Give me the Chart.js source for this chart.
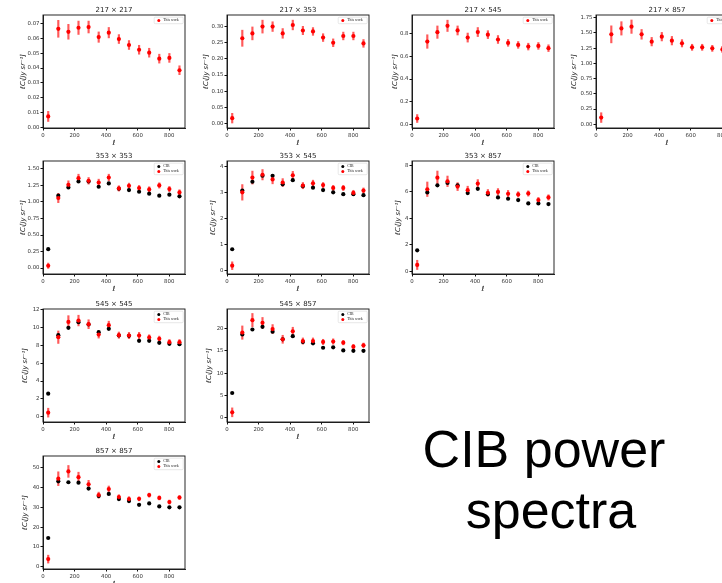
<!DOCTYPE html>
<html><head><meta charset="utf-8">
<script src="https://cdn.jsdelivr.net/npm/chart.js@4/dist/chart.umd.min.js"></script>
<style>
html,body{margin:0;padding:0;background:#fff;}
body{width:722px;height:583px;overflow:hidden;position:relative;}
.big{position:absolute;width:400px;text-align:center;font-family:"Liberation Sans",Arial,sans-serif;font-size:52px;line-height:52px;color:#000;white-space:nowrap;}
</style></head>
<body>
<div class="big" style="left:344px;top:423px;">CIB power</div>
<div class="big" style="left:351px;top:484px;">spectra</div>
<script>
// ---------- data ----------
const ell = [33, 97, 161, 225, 289, 353, 417, 481, 545, 609, 673, 737, 801, 865];
const xTickLabels = ['0', '200', '400', '600', '800'];
const seriesLabels = ['CIB', 'This work'];
const panelTitles = ['217 × 217', '217 × 353', '217 × 545', '217 × 857', '353 × 353',
                     '353 × 545', '353 × 857', '545 × 545', '545 × 857', '857 × 857'];

const work_217x217 = [0.0074, 0.0664, 0.0644, 0.0671, 0.0676, 0.0608, 0.0638, 0.0595, 0.0555, 0.0523, 0.0503, 0.0463, 0.0468, 0.0385];
const err_217x217  = [0.0034, 0.0057, 0.0050, 0.0045, 0.0040, 0.0035, 0.0035, 0.0030, 0.0030, 0.0030, 0.0030, 0.0030, 0.0030, 0.0030];

const work_217x353 = [0.0165, 0.264, 0.279, 0.300, 0.300, 0.279, 0.305, 0.288, 0.285, 0.266, 0.250, 0.271, 0.271, 0.248];
const err_217x353  = [0.015, 0.025, 0.020, 0.020, 0.015, 0.015, 0.015, 0.013, 0.012, 0.012, 0.012, 0.012, 0.012, 0.012];

const work_217x545 = [0.050, 0.732, 0.815, 0.871, 0.830, 0.767, 0.816, 0.793, 0.750, 0.720, 0.702, 0.687, 0.693, 0.673];
const err_217x545  = [0.035, 0.060, 0.055, 0.050, 0.040, 0.040, 0.040, 0.035, 0.035, 0.030, 0.030, 0.030, 0.030, 0.030];

const work_217x857 = [0.109, 1.477, 1.575, 1.603, 1.477, 1.357, 1.439, 1.373, 1.330, 1.264, 1.264, 1.247, 1.230, 1.200];
const err_217x857  = [0.08, 0.14, 0.11, 0.11, 0.08, 0.07, 0.07, 0.07, 0.06, 0.05, 0.05, 0.05, 0.05, 0.05];

const cib_353x353  = [0.285, 1.095, 1.220, 1.310, 1.310, 1.230, 1.280, 1.200, 1.180, 1.155, 1.125, 1.095, 1.110, 1.085];
const work_353x353 = [0.035, 1.060, 1.260, 1.360, 1.320, 1.295, 1.370, 1.205, 1.245, 1.210, 1.190, 1.250, 1.195, 1.145];
const err_353x353  = [0.04, 0.07, 0.06, 0.06, 0.05, 0.05, 0.05, 0.04, 0.04, 0.04, 0.04, 0.04, 0.04, 0.04];

const cib_353x545  = [0.825, 3.09, 3.43, 3.66, 3.66, 3.33, 3.49, 3.26, 3.20, 3.11, 3.02, 2.95, 2.95, 2.91];
const work_353x545 = [0.19, 3.02, 3.59, 3.70, 3.52, 3.40, 3.68, 3.28, 3.37, 3.30, 3.19, 3.19, 3.00, 3.09];
const err_353x545  = [0.15, 0.30, 0.25, 0.20, 0.17, 0.15, 0.15, 0.12, 0.12, 0.10, 0.10, 0.10, 0.10, 0.10];

const cib_353x857  = [1.57, 5.96, 6.50, 6.68, 6.50, 5.91, 6.23, 5.83, 5.58, 5.48, 5.38, 5.13, 5.13, 5.08];
const work_353x857 = [0.47, 6.20, 7.08, 6.80, 6.40, 6.13, 6.63, 5.93, 6.00, 5.86, 5.81, 5.88, 5.38, 5.58];
const err_353x857  = [0.35, 0.55, 0.50, 0.40, 0.30, 0.30, 0.30, 0.25, 0.25, 0.25, 0.20, 0.20, 0.20, 0.20];

const cib_545x545  = [2.58, 9.16, 9.98, 10.62, 10.36, 9.50, 9.87, 9.12, 9.08, 8.52, 8.52, 8.30, 8.19, 8.15];
const work_545x545 = [0.45, 8.93, 10.65, 10.80, 10.39, 9.23, 10.28, 9.16, 9.12, 9.12, 8.90, 8.75, 8.37, 8.37];
const err_545x545  = [0.50, 0.70, 0.70, 0.60, 0.50, 0.40, 0.45, 0.35, 0.35, 0.35, 0.30, 0.30, 0.30, 0.30];

const cib_545x857  = [5.54, 18.7, 19.8, 20.4, 19.3, 17.6, 18.3, 17.0, 16.7, 15.7, 15.8, 15.1, 15.0, 15.0];
const work_545x857 = [1.2, 19.1, 21.9, 21.3, 19.9, 17.6, 19.4, 17.2, 17.2, 17.0, 17.1, 16.85, 15.95, 16.25];
const err_545x857  = [1.0, 1.5, 1.5, 1.2, 1.0, 0.9, 0.9, 0.7, 0.7, 0.6, 0.6, 0.5, 0.5, 0.5];

const cib_857x857  = [14.5, 43.2, 42.7, 42.5, 39.5, 35.7, 36.8, 34.2, 33.2, 31.3, 32.0, 30.5, 30.0, 30.0];
const work_857x857 = [3.8, 44.5, 48.2, 45.3, 41.7, 36.2, 39.3, 35.2, 34.2, 34.3, 36.2, 34.8, 32.7, 35.0];
const err_857x857  = [2.0, 3.5, 3.0, 2.5, 2.0, 1.5, 1.5, 1.2, 1.2, 1.0, 1.0, 1.0, 1.0, 1.0];

const yLabels_217x217 = ['0.00', '0.01', '0.02', '0.03', '0.04', '0.05', '0.06', '0.07'];
const yLabels_217x353 = ['0.00', '0.05', '0.10', '0.15', '0.20', '0.25', '0.30'];
const yLabels_217x545 = ['0.0', '0.2', '0.4', '0.6', '0.8'];
const yLabels_217x857 = ['0.00', '0.25', '0.50', '0.75', '1.00', '1.25', '1.50', '1.75'];
const yLabels_353x353 = ['0.00', '0.25', '0.50', '0.75', '1.00', '1.25', '1.50'];
const yLabels_353x545 = ['0', '1', '2', '3', '4'];
const yLabels_353x857 = ['0', '2', '4', '6', '8'];
const yLabels_545x545 = ['0', '2', '4', '6', '8', '10', '12'];
const yLabels_545x857 = ['0', '5', '10', '15', '20'];
const yLabels_857x857 = ['0', '10', '20', '30', '40', '50'];

// panel definitions: series + axis range
const panels = [
  {work: work_217x217, err: err_217x217, cib: null,        yLabels: yLabels_217x217, yMin: -0.0004, yMax: 0.0757},
  {work: work_217x353, err: err_217x353, cib: null,        yLabels: yLabels_217x353, yMin: -0.014,  yMax: 0.336},
  {work: work_217x545, err: err_217x545, cib: null,        yLabels: yLabels_217x545, yMin: -0.034,  yMax: 0.967},
  {work: work_217x857, err: err_217x857, cib: null,        yLabels: yLabels_217x857, yMin: -0.062,  yMax: 1.795},
  {work: work_353x353, err: err_353x353, cib: cib_353x353, yLabels: yLabels_353x353, yMin: -0.09,   yMax: 1.62},
  {work: work_353x545, err: err_353x545, cib: cib_353x545, yLabels: yLabels_353x545, yMin: -0.13,   yMax: 4.23},
  {work: work_353x857, err: err_353x857, cib: cib_353x857, yLabels: yLabels_353x857, yMin: -0.22,   yMax: 8.34},
  {work: work_545x545, err: err_545x545, cib: cib_545x545, yLabels: yLabels_545x545, yMin: -0.6,    yMax: 12.1},
  {work: work_545x857, err: err_545x857, cib: cib_545x857, yLabels: yLabels_545x857, yMin: -0.97,   yMax: 24.4},
  {work: work_857x857, err: err_857x857, cib: cib_857x857, yLabels: yLabels_857x857, yMin: -1.2,    yMax: 56}
];

// ---------- layout (plot-area left, top, y-title gap) ----------
const layout = [
  [43, 15, 20], [227, 15, 21], [412, 15, 17], [596, 15, 22],
  [43, 161, 20], [227, 161, 14], [412, 161, 14],
  [43, 309, 18], [227, 309, 18],
  [43, 456, 18]
];
const PW = 142, PH = 113, LEFTBOX = 45, TOPBOX = 15, BOTBOX = 27, RIGHTPAD = 8;

const framePlugin = {
  id: 'frame',
  afterDatasetsDraw(chart) {
    const {ctx, chartArea: a} = chart;
    ctx.save();
    ctx.strokeStyle = '#111';
    ctx.lineWidth = 0.9;
    ctx.strokeRect(a.left, a.top, a.right - a.left, a.bottom - a.top);
    ctx.restore();
  }
};

const legendPlugin = {
  id: 'boxLegend',
  afterDraw(chart, args, opts) {
    const items = opts.items;
    if (!items || !items.length) return;
    const {ctx, chartArea: a} = chart;
    const w = 29, rowH = 5, h = items.length * rowH + 1.5;
    const x = a.right - 1.8 - w, y = a.top + 2.2;
    ctx.save();
    ctx.fillStyle = 'rgba(255,255,255,0.85)';
    ctx.strokeStyle = '#d0d0d0';
    ctx.lineWidth = 0.5;
    ctx.beginPath();
    if (ctx.roundRect) ctx.roundRect(x, y, w, h, 1); else ctx.rect(x, y, w, h);
    ctx.fill(); ctx.stroke();
    items.forEach((it, i) => {
      const cy = y + 0.75 + rowH * (i + 0.5);
      ctx.fillStyle = it.color;
      ctx.beginPath(); ctx.arc(x + 4.6, cy, 1.5, 0, Math.PI * 2); ctx.fill();
      ctx.fillStyle = '#222';
      ctx.font = '3.8px "Liberation Serif", "DejaVu Serif", serif';
      ctx.textBaseline = 'middle';
      ctx.fillText(it.label, x + 9, cy);
    });
    ctx.restore();
  }
};

const tickFont = {family: '"DejaVu Sans", sans-serif', size: 5.4};

panels.forEach((p, k) => {
  const [L, T, gap] = layout[k];
  const cw = LEFTBOX + PW + RIGHTPAD, ch = TOPBOX + PH + BOTBOX;
  const canvas = document.createElement('canvas');
  canvas.width = cw; canvas.height = ch;
  canvas.style.cssText = `position:absolute;left:${L - LEFTBOX}px;top:${T - TOPBOX}px;width:${cw}px;height:${ch}px;`;
  document.body.appendChild(canvas);

  const datasets = [];
  datasets.push({
    type: 'bar', label: 'err',
    data: ell.map((x, i) => ({x: x, y: [p.work[i] - p.err[i], p.work[i] + p.err[i]]})),
    backgroundColor: 'rgba(255,20,20,0.7)', borderWidth: 0,
    barThickness: 1.5, grouped: false, order: 3
  });
  const legendItems = [];
  if (p.cib) {
    datasets.push({
      type: 'scatter', label: seriesLabels[0],
      data: ell.map((x, i) => ({x: x, y: p.cib[i]})),
      backgroundColor: '#000', borderColor: '#000', borderWidth: 0, pointRadius: 2.1, order: 2
    });
    legendItems.push({label: seriesLabels[0], color: '#000'});
  }
  datasets.push({
    type: 'scatter', label: seriesLabels[1],
    data: ell.map((x, i) => ({x: x, y: p.work[i]})),
    backgroundColor: '#ff0000', borderColor: '#ff0000', borderWidth: 0, pointRadius: 2.1, order: 1
  });
  legendItems.push({label: seriesLabels[1], color: '#ff0000'});

  const yVals = p.yLabels.map(Number);
  const xVals = xTickLabels.map(Number);
  const yTitleFont = {family: '"DejaVu Sans", sans-serif', size: 6.8, style: 'italic', lineHeight: 1.2};

  new Chart(canvas, {
    type: 'scatter',
    data: {datasets},
    plugins: [framePlugin, legendPlugin],
    options: {
      responsive: false, animation: false, devicePixelRatio: 1,
      layout: {padding: {left: 0, right: RIGHTPAD, top: 0, bottom: 0}},
      plugins: {
        legend: {display: false},
        tooltip: {enabled: false},
        title: {display: true, text: panelTitles[k], fullSize: false, color: '#222',
                font: {family: '"DejaVu Sans", sans-serif', size: 7, weight: 'normal', lineHeight: 1.2},
                padding: {top: 6.2, bottom: 0.4}},
        boxLegend: {items: legendItems}
      },
      scales: {
        x: {
          type: 'linear', min: 0, max: 900, offset: false,
          afterFit: s => { s.height = BOTBOX; },
          afterBuildTicks: s => { s.ticks = xVals.map(v => ({value: v})); },
          ticks: {callback: (v, i) => xTickLabels[i], font: tickFont, color: '#333', padding: 1.5,
                  autoSkip: false, maxRotation: 0},
          grid: {display: true, drawOnChartArea: false, drawTicks: true, tickLength: 2.5, color: '#111', offset: false},
          border: {display: true, color: '#111', width: 0.9},
          title: {display: true, text: 'ℓ', color: '#222',
                  font: {family: '"DejaVu Sans", sans-serif', size: 7, style: 'italic', lineHeight: 1.2},
                  padding: {top: 0, bottom: 8}}
        },
        y: {
          type: 'linear', min: p.yMin, max: p.yMax,
          afterFit: s => { s.width = LEFTBOX; },
          afterBuildTicks: s => { s.ticks = yVals.map(v => ({value: v})); },
          ticks: {callback: (v, i) => p.yLabels[i], font: tickFont, color: '#333', padding: 1,
                  autoSkip: false},
          grid: {display: true, drawOnChartArea: false, drawTicks: true, tickLength: 2.5, color: '#111'},
          border: {display: true, color: '#111', width: 0.9},
          title: {display: true, text: 'ℓCₗ[Jy sr⁻¹]', color: '#222', font: yTitleFont,
                  padding: {top: LEFTBOX - gap - 4.1, bottom: 0}}
        }
      }
    }
  });
});
</script>
</body></html>
